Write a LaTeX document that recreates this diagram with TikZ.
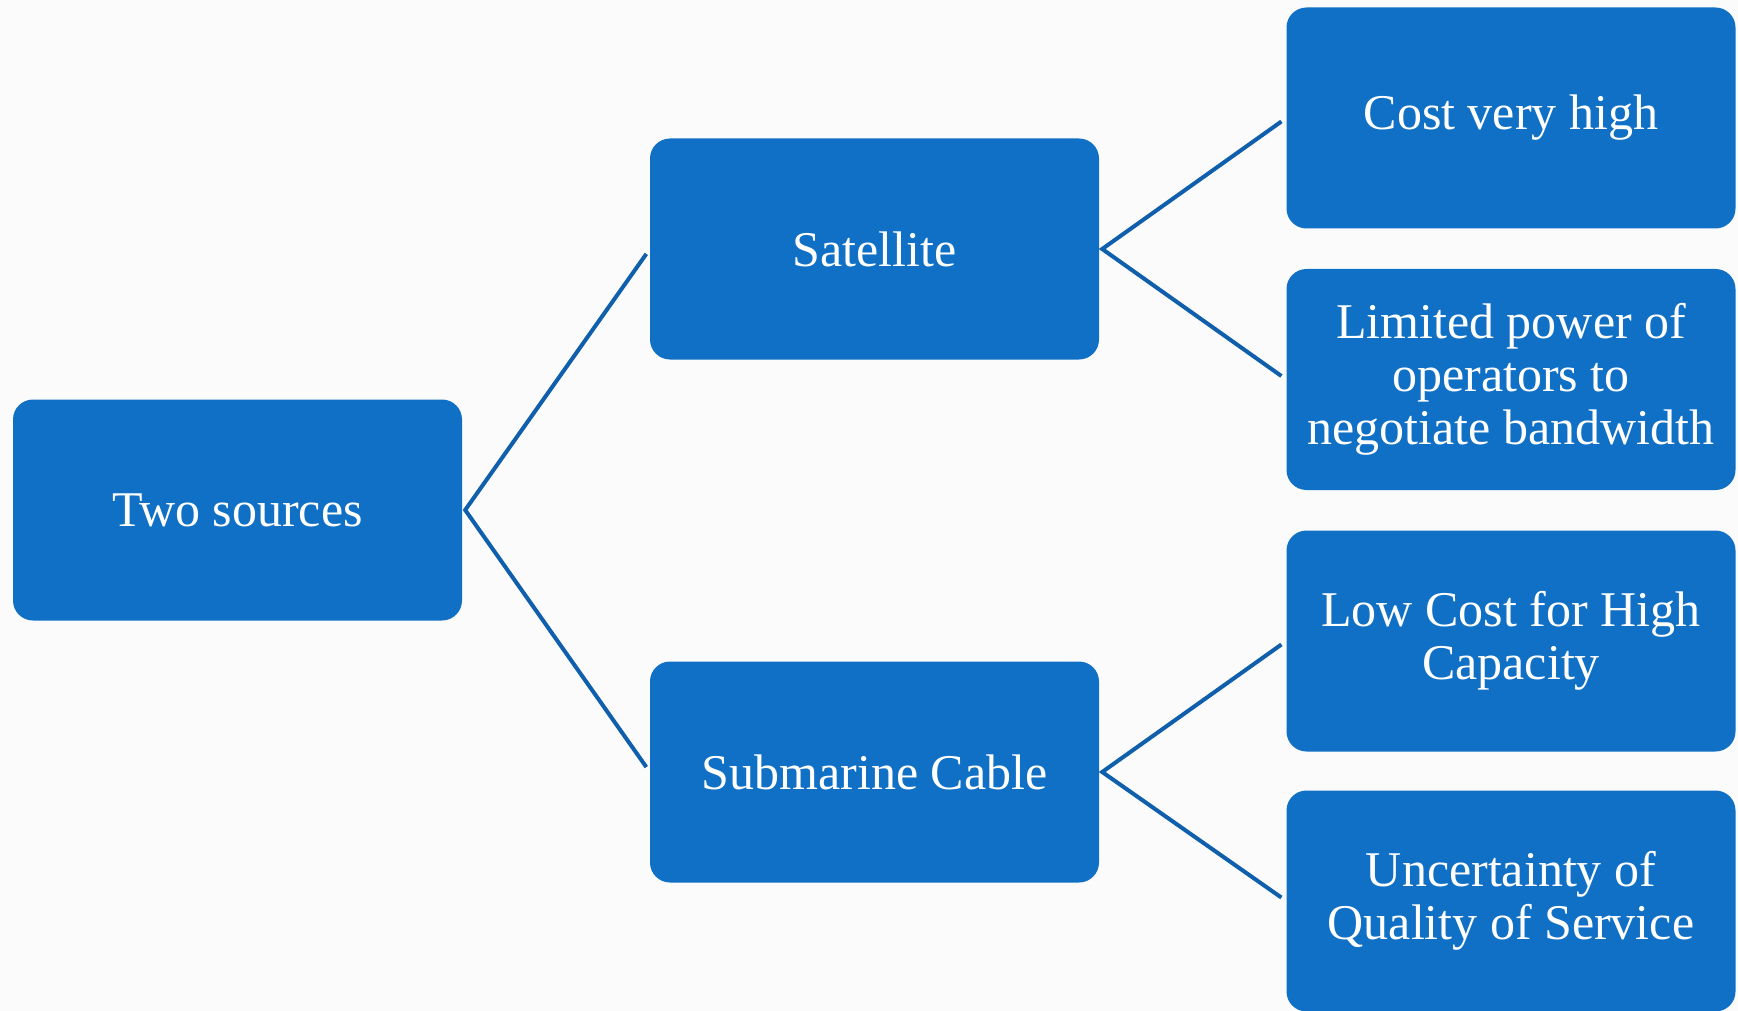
\documentclass[tikz,border=0pt]{standalone}
\usepackage{fontspec}
\setmainfont{Liberation Serif}
\definecolor{boxblue}{HTML}{1070C6}
\definecolor{lineblue}{HTML}{0F5FAC}
\definecolor{bg}{HTML}{FBFBFB}
\begin{document}
\begin{tikzpicture}[x=1pt,y=-1pt,
  box/.style={rectangle, rounded corners=20pt, fill=boxblue, text=white,
    minimum width=449pt, minimum height=221pt, inner sep=4pt,
    align=center, font=\fontsize{50}{53}\selectfont},
  conn/.style={draw=lineblue, line width=4pt, line join=miter, shorten <=6pt, shorten >=6pt}]
\fill[bg] (0,0) rectangle (1738,1011);
\useasboundingbox (0,0) rectangle (1738,1011);
\node[box] (two) at (237.5,510) {Two sources};
\node[box] (sat) at (874.5,249) {Satellite};
\node[box] (sub) at (874.5,772) {Submarine Cable};
\node[box] (c1) at (1511,118) {Cost very high};
\node[box] (c2) at (1511,379.5) {Limited power of\\operators to\\negotiate bandwidth};
\node[box] (c3) at (1511,641) {Low Cost for High\\Capacity};
\node[box] (c4) at (1511,901) {Uncertainty of\\Quality of Service};
\coordinate (twoj) at ([xshift=3pt]two.east);
\coordinate (satj) at ([xshift=3pt]sat.east);
\coordinate (subj) at ([xshift=3pt]sub.east);
\draw[conn] (sat.west) -- (twoj) -- (sub.west);
\draw[conn] (c1.west) -- (satj) -- (c2.west);
\draw[conn] (c3.west) -- (subj) -- (c4.west);
\end{tikzpicture}
\end{document}
